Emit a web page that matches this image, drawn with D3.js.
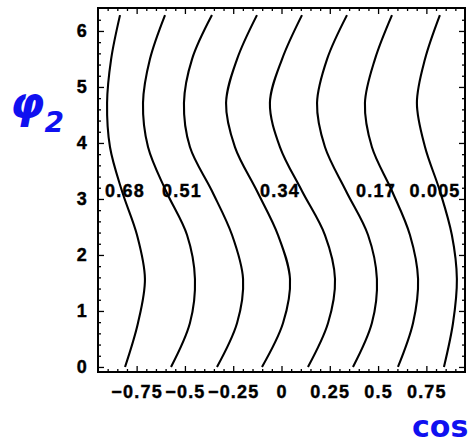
<!DOCTYPE html>
<html><head><meta charset="utf-8">
<script src="https://cdn.jsdelivr.net/npm/d3@7/dist/d3.min.js"></script>
<style>
html,body{margin:0;padding:0;background:#fff;}
svg{display:block;}
</style></head>
<body>
<script>
// ---- data ----
const phiRows = [0, 0.785, 1.571, 2.356, 3.142, 3.927, 4.712, 5.498, 6.283];
const contour1 = [-0.810, -0.743, -0.707, -0.748, -0.826, -0.888, -0.903, -0.882, -0.836];
const contour2 = [-0.572, -0.474, -0.448, -0.489, -0.598, -0.691, -0.717, -0.681, -0.603];
const contour3 = [-0.334, -0.230, -0.199, -0.256, -0.360, -0.474, -0.505, -0.463, -0.360];
const contour4 = [-0.101, 0.008, 0.044, -0.018, -0.127, -0.241, -0.287, -0.230, -0.127];
const contour5 = [0.137, 0.241, 0.277, 0.225, 0.106, -0.008, -0.060, 0.003, 0.106];
const contour6 = [0.370, 0.468, 0.494, 0.448, 0.334, 0.225, 0.184, 0.236, 0.339];
const contour7 = [0.603, 0.681, 0.707, 0.665, 0.572, 0.468, 0.432, 0.484, 0.572];
const contour8 = [0.841, 0.888, 0.908, 0.882, 0.820, 0.743, 0.701, 0.743, 0.820];
const contourLabels = ["0.68", "0.51", "0.34", "0.17", "0.005"];
const contourLabelCos = [-0.810, -0.515, -0.008, 0.489, 0.795];
const contourLabelPhi = 3.04;
const xTickValues = [-0.75, -0.5, -0.25, 0, 0.25, 0.5, 0.75];
const xTickLabels = ["\u22120.75", "\u22120.5", "\u22120.25", "0", "0.25", "0.5", "0.75"];
const yTickValues = [0, 1, 2, 3, 4, 5, 6];
const yTickLabels = ["0", "1", "2", "3", "4", "5", "6"];

const W = 475, H = 444;
const svg = d3.select("body").append("svg").attr("width", W).attr("height", H);

const x = d3.scaleLinear().domain([-0.95, 0.95]).range([98, 465]);
const y = d3.scaleLinear().domain([-0.09, 6.41]).range([372, 8]);

const font = "'Liberation Sans', Arial, sans-serif";

// contours
const contours = [contour1, contour2, contour3, contour4, contour5, contour6, contour7, contour8];
const line = d3.line().x(d => x(d[0])).y(d => y(d[1])).curve(d3.curveCatmullRom.alpha(0.5));
svg.append("g").selectAll("path").data(contours).join("path")
  .attr("d", c => line(c.map((v, i) => [v, phiRows[i]])))
  .attr("fill", "none").attr("stroke", "#000").attr("stroke-width", 2.1);

// contour labels
svg.append("g").selectAll("text").data(contourLabels).join("text")
  .attr("x", (d, i) => x(contourLabelCos[i]))
  .attr("y", y(contourLabelPhi))
  .attr("text-anchor", "middle")
  .attr("font-family", font).attr("font-weight", "bold").attr("font-size", 18)
  .attr("letter-spacing", 1.2)
  .attr("stroke", "#000").attr("stroke-width", 0.4)
  .text(d => d);

// minor ticks
const xMinor = d3.range(-0.9, 0.9001, 0.05).filter(v => Math.abs(v / 0.25 - Math.round(v / 0.25)) > 1e-6);
const yMinor = d3.range(0, 6.4, 0.2).filter(v => Math.abs(v - Math.round(v)) > 1e-6);

function styleAxis(g) {
  g.select(".domain").remove();
  g.selectAll("line").attr("stroke", "#000").attr("stroke-width", 1.3);
  g.selectAll("text").attr("font-family", font).attr("font-weight", "bold")
    .attr("font-size", 18).attr("letter-spacing", 1.2).attr("fill", "#000")
    .attr("stroke", "#000").attr("stroke-width", 0.4);
}

// bottom
svg.append("g").attr("transform", `translate(0,${y.range()[0]})`)
  .call(d3.axisBottom(x).tickValues(xTickValues).tickFormat((d, i) => xTickLabels[i])
    .tickSizeInner(-6).tickSizeOuter(0).tickPadding(13)).call(styleAxis);
svg.append("g").attr("transform", `translate(0,${y.range()[0]})`)
  .call(d3.axisBottom(x).tickValues(xMinor).tickFormat("").tickSizeInner(-3).tickSizeOuter(0)).call(styleAxis);
// top
svg.append("g").attr("transform", `translate(0,${y.range()[1]})`)
  .call(d3.axisTop(x).tickValues(xTickValues).tickFormat("").tickSizeInner(-6).tickSizeOuter(0)).call(styleAxis);
svg.append("g").attr("transform", `translate(0,${y.range()[1]})`)
  .call(d3.axisTop(x).tickValues(xMinor).tickFormat("").tickSizeInner(-3).tickSizeOuter(0)).call(styleAxis);
// left
svg.append("g").attr("transform", `translate(${x.range()[0]},0)`)
  .call(d3.axisLeft(y).tickValues(yTickValues).tickFormat((d, i) => yTickLabels[i])
    .tickSizeInner(-6).tickSizeOuter(0).tickPadding(10)).call(styleAxis);
svg.append("g").attr("transform", `translate(${x.range()[0]},0)`)
  .call(d3.axisLeft(y).tickValues(yMinor).tickFormat("").tickSizeInner(-3).tickSizeOuter(0)).call(styleAxis);
// right
svg.append("g").attr("transform", `translate(${x.range()[1]},0)`)
  .call(d3.axisRight(y).tickValues(yTickValues).tickFormat("").tickSizeInner(-6).tickSizeOuter(0)).call(styleAxis);
svg.append("g").attr("transform", `translate(${x.range()[1]},0)`)
  .call(d3.axisRight(y).tickValues(yMinor).tickFormat("").tickSizeInner(-3).tickSizeOuter(0)).call(styleAxis);

// frame
svg.append("rect")
  .attr("x", x.range()[0]).attr("y", y.range()[1])
  .attr("width", x.range()[1] - x.range()[0]).attr("height", y.range()[0] - y.range()[1])
  .attr("fill", "none").attr("stroke", "#000").attr("stroke-width", 2);

// handwritten axis titles (blue marker)
const blue = "#1010f0";
const phiT = svg.append("text").attr("x", 10).attr("y", 118)
  .attr("font-family", "'DejaVu Sans', sans-serif").attr("font-weight", "bold")
  .attr("font-style", "italic").attr("font-size", 44).attr("fill", blue);
phiT.append("tspan").text("\u03c6");
phiT.append("tspan").attr("font-size", 28).attr("dy", 14).text("2");

svg.append("text").attr("x", 412).attr("y", 437)
  .attr("font-family", "'DejaVu Sans', sans-serif").attr("font-weight", "bold")
  .attr("font-size", 30).attr("fill", blue).text("cos");
</script>
</body></html>
